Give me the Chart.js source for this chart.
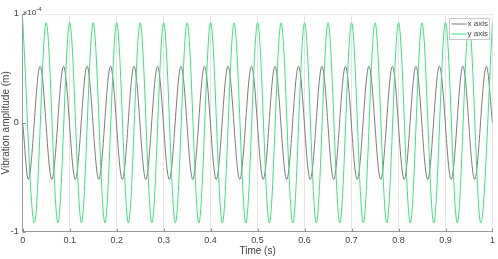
<!DOCTYPE html>
<html>
<head>
<meta charset="utf-8">
<script src="https://cdn.jsdelivr.net/npm/chart.js@4"></script>
<style>
  body { margin: 0; background: #fff; }
  #wrap { width: 498px; height: 259px; }
</style>
</head>
<body>
<div id="wrap"><canvas id="chart" width="498" height="259"></canvas></div>
<script>
// tick labels
const xTicks = [0, 0.1, 0.2, 0.3, 0.4, 0.5, 0.6, 0.7, 0.8, 0.9, 1];
const yTicks = [-1, 0, 1];
const seriesNames = ['x axis', 'y axis'];

// x axis vibration (x10^-4 m), read at peaks / troughs
const xAxisTime = [0, 0.012, 0.037, 0.062, 0.087, 0.112, 0.137, 0.162, 0.187, 0.212, 0.237,
    0.262, 0.287, 0.312, 0.337, 0.362, 0.387, 0.412, 0.437, 0.462, 0.487,
    0.512, 0.537, 0.562, 0.587, 0.612, 0.637, 0.662, 0.687, 0.712, 0.737,
    0.762, 0.787, 0.812, 0.837, 0.862, 0.887, 0.912, 0.937, 0.962, 0.987, 1];
const xAxisAmp = [0.0, -0.52, 0.52, -0.52, 0.52, -0.52, 0.52, -0.52, 0.52, -0.52, 0.52,
    -0.52, 0.52, -0.52, 0.52, -0.52, 0.52, -0.52, 0.52, -0.52, 0.52,
    -0.52, 0.52, -0.52, 0.52, -0.52, 0.52, -0.52, 0.52, -0.52, 0.52,
    -0.52, 0.52, -0.52, 0.52, -0.52, 0.52, -0.52, 0.52, -0.52, 0.52, 0.0];

// y axis vibration (x10^-4 m)
const yAxisTime = [0, 0.025, 0.05, 0.075, 0.1, 0.125, 0.15, 0.175, 0.2, 0.225, 0.25,
    0.275, 0.3, 0.325, 0.35, 0.375, 0.4, 0.425, 0.45, 0.475, 0.5,
    0.525, 0.55, 0.575, 0.6, 0.625, 0.65, 0.675, 0.7, 0.725, 0.75,
    0.775, 0.8, 0.825, 0.85, 0.875, 0.9, 0.925, 0.95, 0.975, 1];
const yAxisAmp = [0.94, -0.92, 0.92, -0.92, 0.92, -0.92, 0.92, -0.92, 0.92, -0.92, 0.92,
    -0.92, 0.92, -0.92, 0.92, -0.92, 0.92, -0.92, 0.92, -0.92, 0.92,
    -0.92, 0.92, -0.92, 0.92, -0.92, 0.92, -0.92, 0.92, -0.92, 0.92,
    -0.92, 0.92, -0.92, 0.92, -0.92, 0.92, -0.92, 0.92, -0.92, 0.92];

const GRAY = '#7a7a7a';
const GREEN = '#3ee07e';
const FONT = '"Liberation Sans", Arial, sans-serif';

const data = {
    datasets: [{
        label: seriesNames[0],
        data: xAxisTime.map((t, i) => ({ x: t, y: xAxisAmp[i] })),
        borderColor: GRAY,
        borderWidth: 1,
        order: 1
    }, {
        label: seriesNames[1],
        data: yAxisTime.map((t, i) => ({ x: t, y: yAxisAmp[i] })),
        borderColor: GREEN,
        borderWidth: 1,
        order: 0
    }]
}

// titles, exponent, inward ticks, legend
const decor = {
    id: 'decor',
    afterDraw(chart) {
        const { ctx, chartArea: { top, bottom, left, right }, scales: { x, y } } = chart;
        ctx.save();
        // inward ticks
        ctx.strokeStyle = '#8c8c8c';
        ctx.lineWidth = 1;
        ctx.beginPath();
        xTicks.forEach(v => {
            const px = Math.round(x.getPixelForValue(v)) + 0.5;
            ctx.moveTo(px, bottom);
            ctx.lineTo(px, bottom - 3);
        });
        yTicks.forEach(v => {
            const py = Math.round(y.getPixelForValue(v)) + 0.5;
            ctx.moveTo(left, py);
            ctx.lineTo(left + 3, py);
        });
        ctx.stroke();

        // axis titles
        ctx.fillStyle = '#404040';
        ctx.font = '10px ' + FONT;
        ctx.textAlign = 'center';
        ctx.textBaseline = 'middle';
        ctx.fillText('Time (s)', (left + right) / 2, 251);
        ctx.save();
        ctx.translate(6, (top + bottom) / 2);
        ctx.rotate(-Math.PI / 2);
        ctx.fillText('Vibration amplitude (m)', 0, 0);
        ctx.restore();

        // exponent
        ctx.textAlign = 'left';
        ctx.textBaseline = 'alphabetic';
        ctx.font = '8px ' + FONT;
        ctx.fillText('\u00d710', left, 15);
        const w = ctx.measureText('\u00d710').width;
        ctx.font = '6px ' + FONT;
        ctx.fillText('-4', left + w, 11);

        // legend
        const lx = 449.5, ly = 18.5, lw = 40, lh = 21;
        ctx.fillStyle = '#fff';
        ctx.fillRect(lx, ly, lw, lh);
        ctx.strokeStyle = '#c8c8c8';
        ctx.strokeRect(lx, ly, lw, lh);
        [GRAY, GREEN].forEach((c, i) => {
            const yy = ly + 5.5 + i * 10;
            ctx.strokeStyle = c;
            ctx.beginPath();
            ctx.moveTo(lx + 2, yy);
            ctx.lineTo(lx + 17, yy);
            ctx.stroke();
            ctx.fillStyle = '#404040';
            ctx.font = '8px ' + FONT;
            ctx.textBaseline = 'middle';
            ctx.fillText(seriesNames[i], lx + 18, yy);
        });
        ctx.restore();
    }
}

const config = {
    type: 'line',
    data,
    options: {
        responsive: false,
        animation: false,
        events: [],
        layout: { padding: { top: 14, right: 3.7, left: 0, bottom: 0 } },
        elements: {
            point: { radius: 0 },
            line: { cubicInterpolationMode: 'monotone' }
        },
        plugins: { legend: { display: false }, tooltip: { enabled: false } },
        scales: {
            x: {
                type: 'linear',
                min: 0,
                max: 1,
                afterBuildTicks: (s) => { s.ticks = xTicks.map(v => ({ value: v })); },
                afterFit: (s) => { s.height = 27.3; },
                ticks: {
                    padding: 3,
                    color: '#404040',
                    font: { size: 9, family: FONT },
                    maxRotation: 0,
                    callback: (v) => String(Math.round(v * 10) / 10)
                },
                grid: { color: '#e6e6e6', drawTicks: false },
                border: { color: '#9a9a9a' }
            },
            y: {
                min: -1,
                max: 1,
                afterBuildTicks: (s) => { s.ticks = yTicks.map(v => ({ value: v })); },
                afterFit: (s) => { s.width = 22.7; },
                ticks: {
                    padding: 4,
                    color: '#404040',
                    font: { size: 9, family: FONT },
                    callback: (v) => String(v)
                },
                // only the top line shows in the reference
                grid: { color: (c) => c.tick && c.tick.value === 1 ? '#ececec' : 'rgba(0,0,0,0)', drawTicks: false },
                border: { color: '#9a9a9a' }
            }
        }
    },
    plugins: [decor]
}

var chart = document.getElementById('chart');
var myChart = new Chart(chart, config);
</script>
</body>
</html>
